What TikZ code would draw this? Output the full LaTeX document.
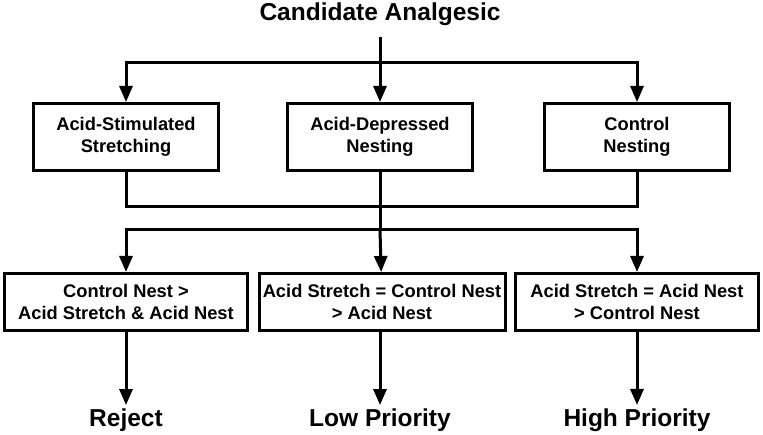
\documentclass[tikz,border=0pt]{standalone}
\usepackage{fontspec}
\setmainfont{Liberation Sans}
\usetikzlibrary{arrows.meta}

\begin{document}
\begin{tikzpicture}[x=1pt, y=-1pt,
  testbox/.style={draw, line width=3pt, inner sep=0pt, align=center,
    minimum width=185, minimum height=67, font=\fontsize{18.3}{22}\selectfont\bfseries},
  rulebox/.style={testbox, minimum width=243, minimum height=57},
  outcome/.style={font=\fontsize{24.5}{28}\selectfont\bfseries},
  link/.style={line width=3pt, line join=miter},
  flow/.style={link, -{Triangle[width=13pt,length=16pt]}}]
  \useasboundingbox (0,0) rectangle (763,435);

  % Compound under test
  \node[outcome, inner sep=0pt, outer sep=12pt] (cand) at (380,14) {Candidate Analgesic};

  % Behavioural assays
  \node[testbox] (stretch)  at (126,137) {Acid-Stimulated\\Stretching};
  \node[testbox] (depnest)  at (380,137) {Acid-Depressed\\Nesting};
  \node[testbox] (ctrlnest) at (637,137) {Control\\Nesting};

  % Comparison of outcomes
  \node[rulebox] (crit1) at (126,302) {Control Nest >\\Acid Stretch \& Acid Nest};
  \node[rulebox, minimum width=246] (crit2) at (382,302) {Acid Stretch = Control Nest\\> Acid Nest};
  \node[rulebox] (crit3) at (637,302) {Acid Stretch = Acid Nest\\> Control Nest};

  % Decisions
  \node[outcome] (reject) at (126,420) {Reject};
  \node[outcome] (low)    at (380,420) {Low Priority};
  \node[outcome] (high)   at (637,420) {High Priority};

  % Branch points
  \coordinate (split1) at (380,63);
  \coordinate (join)   at (380,207);
  \coordinate (split2) at (380,230);

  % Candidate to assays
  \draw[link] (cand.south) -- (split1);
  \draw[flow] (split1) -- (depnest);
  \draw[flow] (split1) -| (stretch);
  \draw[flow] (split1) -| (ctrlnest);

  % Assays merged, then split to comparisons
  \draw[link] (stretch) |- (join);
  \draw[link] (ctrlnest) |- (join);
  \draw[link] (depnest) -- (split2);
  \draw[flow] (split2) -- (crit2);
  \draw[flow] (split2) -| (crit1);
  \draw[flow] (split2) -| (crit3);

  % Comparisons to decisions
  \draw[flow] (crit1) -- (reject);
  \draw[flow] (crit2.south -| low) -- (low);
  \draw[flow] (crit3) -- (high);
\end{tikzpicture}
\end{document}
